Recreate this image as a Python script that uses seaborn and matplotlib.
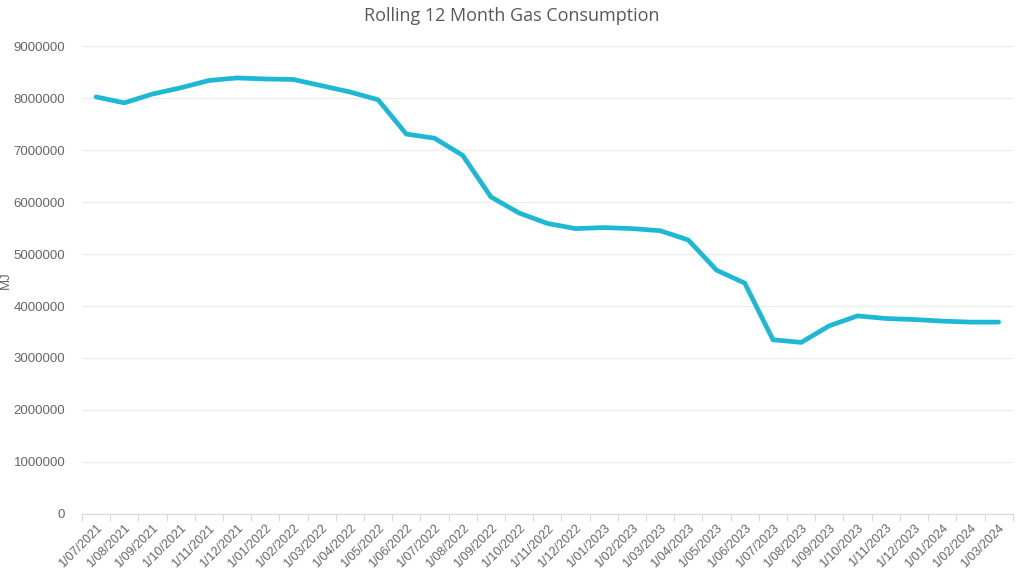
import pandas as pd
import matplotlib.pyplot as plt
import seaborn as sns
from matplotlib.ticker import FixedLocator

# Month labels (category axis, Excel style)
months = [
    "1/07/2021", "1/08/2021", "1/09/2021", "1/10/2021", "1/11/2021", "1/12/2021",
    "1/01/2022", "1/02/2022", "1/03/2022", "1/04/2022", "1/05/2022", "1/06/2022",
    "1/07/2022", "1/08/2022", "1/09/2022", "1/10/2022", "1/11/2022", "1/12/2022",
    "1/01/2023", "1/02/2023", "1/03/2023", "1/04/2023", "1/05/2023", "1/06/2023",
    "1/07/2023", "1/08/2023", "1/09/2023", "1/10/2023", "1/11/2023", "1/12/2023",
    "1/01/2024", "1/02/2024", "1/03/2024",
]

# Rolling 12 month gas consumption (MJ)
consumption = [
    8025000, 7910000, 8080000, 8200000, 8340000, 8390000,
    8370000, 8360000, 8240000, 8120000, 7970000, 7310000,
    7230000, 6900000, 6100000, 5790000, 5590000, 5490000,
    5510000, 5490000, 5450000, 5270000, 4690000, 4440000,
    3350000, 3300000, 3620000, 3810000, 3760000, 3740000,
    3710000, 3690000, 3690000,
]

y_ticks = list(range(0, 9000001, 1000000))

df = pd.DataFrame({"idx": range(len(months)), "month": months, "mj": consumption})

sns.set_theme(style="white")
plt.rcParams["font.family"] = ["Liberation Sans", "DejaVu Sans"]

fig = plt.figure(figsize=(10.24, 5.78), dpi=100)
ax = fig.add_axes([0.080, 0.111, 0.909, 0.809])

sns.lineplot(data=df, x="idx", y="mj", ax=ax, color="#1CB8D6",
             linewidth=3.4, solid_joinstyle="round", solid_capstyle="round")

ax.set_xlim(-0.5, len(months) - 0.5)
ax.set_ylim(0, 9000000)
ax.set_yticks(y_ticks)
ax.set_yticklabels([str(v) for v in y_ticks])
ax.yaxis.grid(True, color="#EBEBEB", linewidth=0.9)
ax.set_axisbelow(True)

ax.set_xticks(df["idx"])
ax.set_xticklabels(months, rotation=45, ha="right", rotation_mode="anchor")
ax.xaxis.set_minor_locator(FixedLocator([i - 0.5 for i in range(len(months) + 1)]))
ax.tick_params(axis="x", which="major", length=0, pad=6, labelsize=9, colors="#666666")
ax.tick_params(axis="x", which="minor", length=5, width=0.8, color="#D9D9D9", bottom=True)
ax.tick_params(axis="y", length=0, pad=12, labelsize=9.5, colors="#666666")

for side in ["top", "right", "left"]:
    ax.spines[side].set_visible(False)
ax.spines["bottom"].set_color("#D9D9D9")
ax.spines["bottom"].set_linewidth(0.9)

ax.set_xlabel("")
ax.set_ylabel("MJ", fontsize=9.5, color="#666666", labelpad=4)
ax.yaxis.set_label_coords(-0.075, 0.5)
fig.text(0.5, 0.972, "Rolling 12 Month Gas Consumption", ha="center", va="center",
         fontsize=13, color="#595959", family=["Open Sans", "DejaVu Sans"])

fig.savefig("out.png", dpi=100, facecolor="white")
